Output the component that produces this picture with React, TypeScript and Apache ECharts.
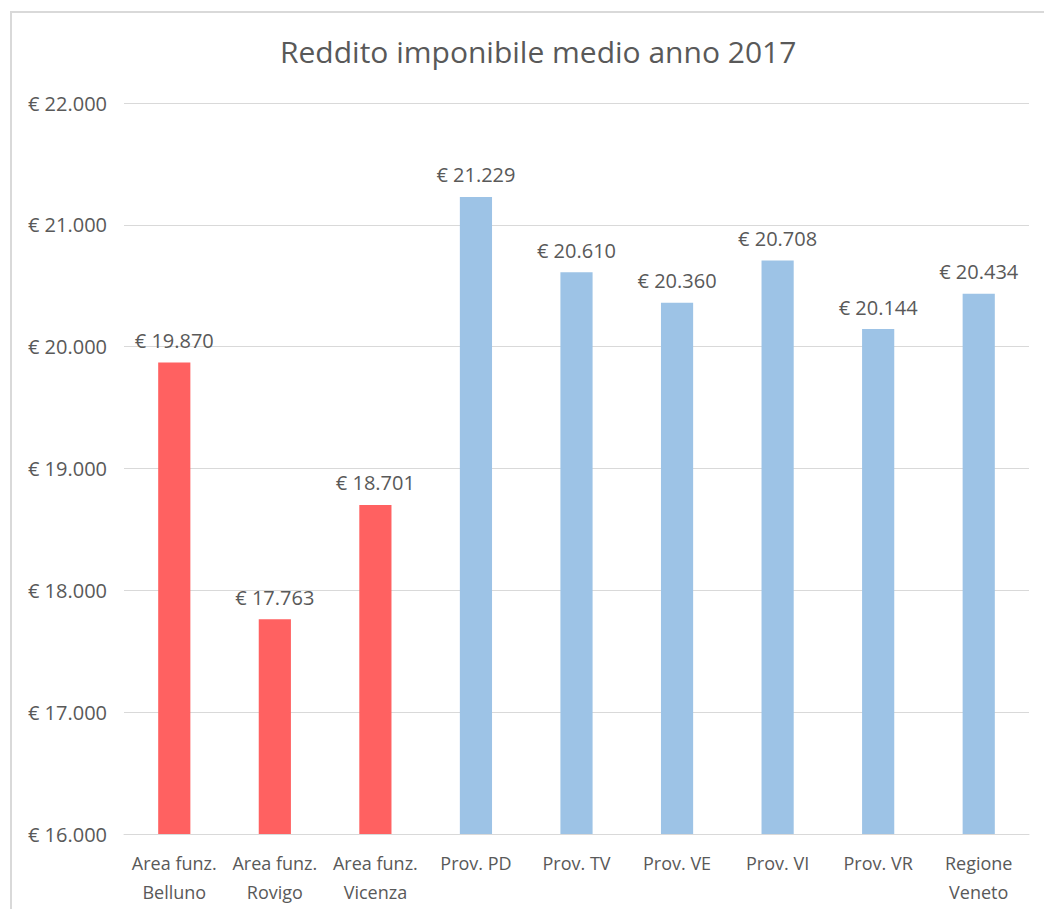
import React, { useEffect, useRef } from "react";
import * as echarts from "echarts";

const categories = [
  "Area funz.\nBelluno",
  "Area funz.\nRovigo",
  "Area funz.\nVicenza",
  "Prov. PD",
  "Prov. TV",
  "Prov. VE",
  "Prov. VI",
  "Prov. VR",
  "Regione\nVeneto",
];
const values = [19870, 17763, 18701, 21229, 20610, 20360, 20708, 20144, 20434];
const groups = ["area", "area", "area", "prov", "prov", "prov", "prov", "prov", "prov"];
const yTicks = [16000, 17000, 18000, 19000, 20000, 21000, 22000];

const RED = "#FF6161";
const BLUE = "#9DC3E6";
const TEXT = "#595959";
const FONT = "'Open Sans', 'Noto Sans', sans-serif";

function euro(v: number): string {
  const s = Math.round(v).toString().replace(/\B(?=(\d{3})+(?!\d))/g, ".");
  return "€ " + s;
}

export default function App() {
  const ref = useRef<HTMLDivElement>(null);
  useEffect(() => {
    if (!ref.current) return;
    const chart = echarts.init(ref.current, undefined, { renderer: "svg" });
    chart.setOption({
      animation: false,
      backgroundColor: "#ffffff",
      title: {
        text: "Reddito imponibile medio anno 2017",
        left: 275,
        top: 31,
        textStyle: { color: TEXT, fontFamily: FONT, fontSize: 30, fontWeight: "normal" },
      },
      graphic: [
        {
          type: "rect",
          shape: { x: 11, y: 12, width: 1100, height: 1000 },
          style: { fill: "none", stroke: "#d9d9d9", lineWidth: 2 },
          silent: true,
        },
      ],
      grid: { left: 124, right: 15, top: 103, bottom: 75, containLabel: false },
      xAxis: {
        type: "category",
        data: categories,
        axisLine: { show: true, lineStyle: { color: "#d9d9d9", width: 1 } },
        axisTick: { show: false },
        axisLabel: {
          color: TEXT,
          fontFamily: FONT,
          fontSize: 18,
          lineHeight: 29,
          margin: 14,
          interval: 0,
        },
      },
      yAxis: {
        type: "value",
        min: yTicks[0],
        max: yTicks[yTicks.length - 1],
        interval: 1000,
        axisLine: { show: false },
        axisTick: { show: false },
        splitLine: { lineStyle: { color: "#d9d9d9", width: 1 } },
        axisLabel: {
          color: TEXT,
          fontFamily: FONT,
          fontSize: 20,
          margin: 17,
          formatter: (v: number) => euro(v),
        },
      },
      series: [
        {
          type: "bar",
          barWidth: "32%",
          data: values.map((v, i) => ({
            value: v,
            itemStyle: { color: groups[i] === "area" ? RED : BLUE },
          })),
          label: {
            show: true,
            position: "top",
            distance: 12,
            color: TEXT,
            fontFamily: FONT,
            fontSize: 20,
            formatter: (p: any) => euro(p.value),
          },
        },
      ],
    });
    return () => chart.dispose();
  }, []);
  return (
    <div
      ref={ref}
      style={{ position: "absolute", left: 0, top: 0, width: 1044, height: 909 }}
    />
  );
}
